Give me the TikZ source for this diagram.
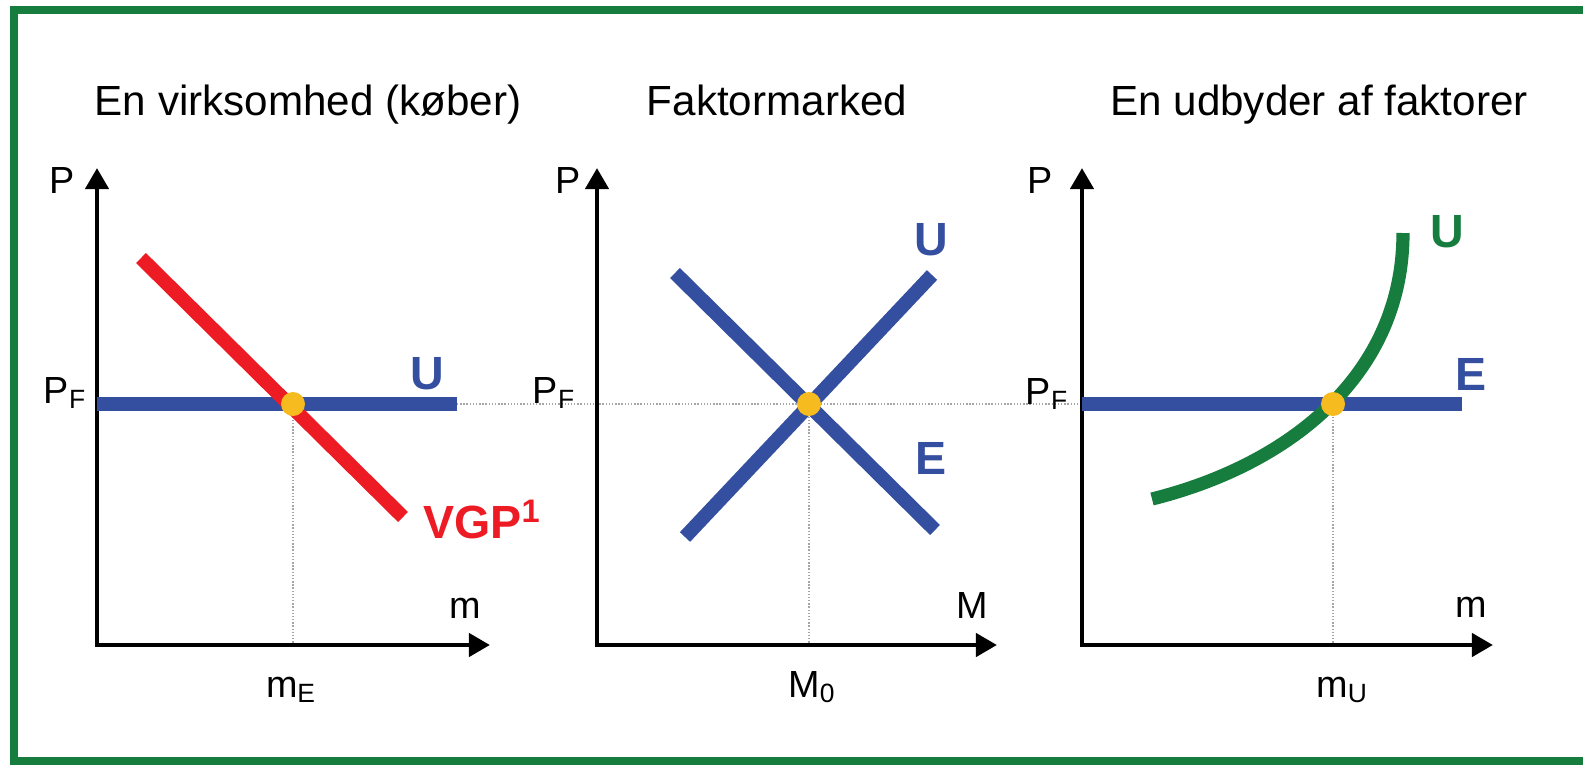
\documentclass[tikz,border=0pt]{standalone}
\usepackage{fontspec}
\setmainfont{Liberation Sans}
\usetikzlibrary{arrows.meta}
\definecolor{framegreen}{RGB}{22,125,62}
\definecolor{curveblue}{RGB}{52,78,160}
\definecolor{curvered}{RGB}{237,28,36}
\definecolor{dotorange}{RGB}{246,187,30}

\begin{document}
\begin{tikzpicture}[x=0.02cm, y=-0.02cm]
  \tikzset{
    axis/.style={
      line width=2.8pt,
      {Triangle[length=12pt,width=13pt]}-{Triangle[length=12pt,width=13pt]}
    },
    guide/.style={
      densely dotted,
      line width=0.8pt,
      gray!70
    },
    bluecurve/.style={line width=8pt, curveblue},
    redcurve/.style={line width=8pt, curvered},
    greencurve/.style={line width=7.5pt, framegreen},
    title/.style={
      font=\fontsize{24}{28}\selectfont,
      anchor=base,
      inner sep=0pt
    },
    axislabel/.style={
      font=\fontsize{21.5}{26}\selectfont,
      anchor=base,
      inner sep=0pt
    },
    curvelabel/.style={
      font=\fontsize{26.5}{30}\selectfont\bfseries,
      anchor=base,
      inner sep=0pt
    },
    eqdot/.style={
      circle,
      fill=dotorange,
      minimum size=0.48cm,
      inner sep=0pt
    }
  }
  \useasboundingbox (0,0) rectangle (1583,765);

  % Frame (open on the right)
  \draw[framegreen, line width=4.8pt] (1600,10) -- (14,10) -- (14,761) -- (1600,761);

  % Titles
  \node[title] (title1) at (308,115) {En virksomhed (køber)};
  \node[title] (title2) at (777,115) {Faktormarked};
  \node[title] (title3) at (1319,115) {En udbyder af faktorer};

  % Axes
  \coordinate (ytip1) at (97,168);
  \coordinate (o1) at (97,645);
  \coordinate (xtip1) at (490,645);
  \coordinate (ytip2) at (597,168);
  \coordinate (o2) at (597,645);
  \coordinate (xtip2) at (997,645);
  \coordinate (ytip3) at (1082,168);
  \coordinate (o3) at (1082,645);
  \coordinate (xtip3) at (1493,645);

  % Guide lines
  \coordinate (u1end) at (457,404);
  \coordinate (pf3) at (1082,404);
  \coordinate (me) at (293,645);
  \coordinate (m0) at (809,645);
  \coordinate (mu) at (1333,645);
  \draw[guide] (u1end) -- (pf3);
  \draw[guide] (293,404) -- (me);
  \draw[guide] (809,404) -- (m0);
  \draw[guide] (1333,404) -- (mu);

  \draw[axis] (ytip1) -- (o1) -- (xtip1);
  \draw[axis] (ytip2) -- (o2) -- (xtip2);
  \draw[axis] (ytip3) -- (o3) -- (xtip3);

  % Panel 1: the firm
  \coordinate (vgp1a) at (141,258);
  \coordinate (vgp1b) at (403,517);
  \draw[bluecurve] (o1 |- u1end) -- (u1end);
  \draw[redcurve] (vgp1a) -- (vgp1b);
  \node[eqdot] (dot1) at (293,404) {};

  % Panel 2: the market
  \coordinate (e2a) at (675,273);
  \coordinate (e2b) at (935,530);
  \coordinate (u2a) at (685,537);
  \coordinate (u2b) at (932,275);
  \draw[bluecurve] (e2a) -- (e2b);
  \draw[bluecurve] (u2a) -- (u2b);
  \node[eqdot] (dot2) at (809,404) {};

  % Panel 3: the supplier
  \coordinate (e3b) at (1462,404);
  \coordinate (u3a) at (1152,499);
  \coordinate (u3b) at (1403,233);
  \draw[bluecurve] (pf3) -- (e3b);
  \draw[greencurve] (u3a) .. controls (1292,464) and (1403,373) .. (u3b);
  \node[eqdot] (dot3) at (1333,404) {};

  % Axis labels
  \node[axislabel] (p1) at (62,193) {P};
  \node[axislabel] (pf1) at (65,403) {P\textsubscript{F}};
  \node[axislabel] (m1) at (465,618) {m};
  \node[axislabel] (me1) at (291,697) {m\textsubscript{E}};
  \node[axislabel] (p2) at (568,193) {P};
  \node[axislabel] (pf2) at (554,403) {P\textsubscript{F}};
  \node[axislabel] (m2) at (972,618) {M};
  \node[axislabel] (m02) at (812,697) {M\textsubscript{0}};
  \node[axislabel] (p3) at (1040,193) {P};
  \node[axislabel] (pf3l) at (1047,404) {P\textsubscript{F}};
  \node[axislabel] (m3) at (1471,617) {m};
  \node[axislabel] (mu3) at (1342,697) {m\textsubscript{U}};

  % Curve labels
  \node[curvelabel, text=curveblue] (ulab1) at (427,389) {U};
  \node[curvelabel, text=curvered] (vgplab) at (482,538) {VGP\textsuperscript{1}};
  \node[curvelabel, text=curveblue] (ulab2) at (931,255) {U};
  \node[curvelabel, text=curveblue] (elab2) at (931,474) {E};
  \node[curvelabel, text=framegreen] (ulab3) at (1447,247) {U};
  \node[curvelabel, text=curveblue] (elab3) at (1471,390) {E};
\end{tikzpicture}
\end{document}
